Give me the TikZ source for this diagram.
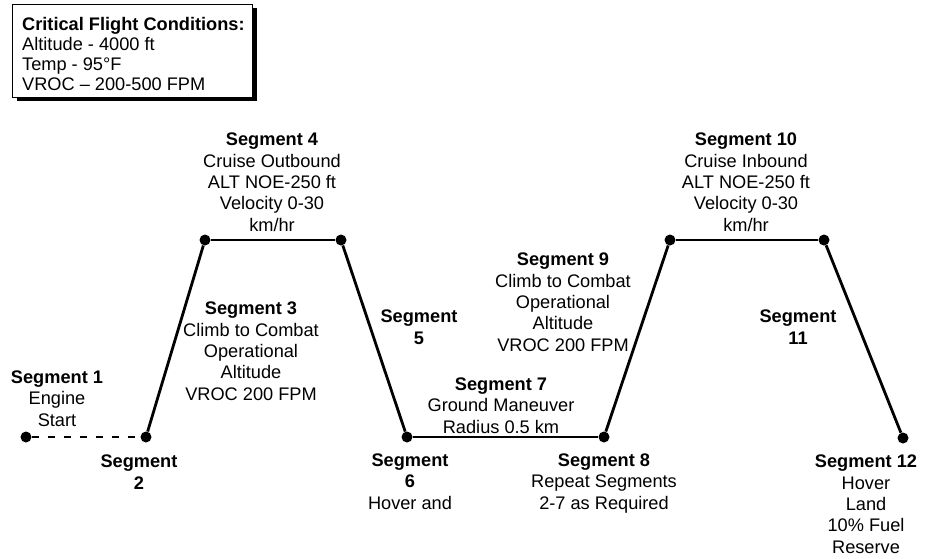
\documentclass[tikz,border=0pt]{standalone}
\usepackage{fontspec}
\setmainfont{Liberation Sans}
\usetikzlibrary{positioning,shadows}

\begin{document}
\begin{tikzpicture}[x=1pt, y=-1pt,
	pt/.style={circle, fill=black, inner sep=0pt, minimum size=11pt},
	seg/.style={align=center, anchor=base, inner sep=0pt, font=\fontsize{18.2}{21.3}\selectfont},
	leg/.style={line width=2.8pt}]
	\useasboundingbox (0,0) rectangle (927,558);

	% legend box
	\node[draw, line width=1.2pt, fill=white, anchor=north west, minimum width=240pt, minimum height=93pt,
	      drop shadow={shadow xshift=4pt, shadow yshift=-3.5pt, fill=black, opacity=1}] (cond) at (12,4) {};
	\node[anchor=north west, align=left, inner sep=0pt, font=\fontsize{18.2}{20}\selectfont] (condtext) at (22,17.5)
	      {\textbf{Critical Flight Conditions:}\\ Altitude - 4000 ft\\ Temp - 95°F\\ VROC -- 200-500 FPM};

	% profile points
	\node[pt] (p1) at (26,437) {};
	\node[pt] (p2) at (146,437) {};
	\node[pt] (p3) at (205,240) {};
	\node[pt] (p4) at (341,240) {};
	\node[pt] (p5) at (407,437) {};
	\node[pt] (p6) at (604,437) {};
	\node[pt] (p7) at (670,240) {};
	\node[pt] (p8) at (824,240) {};
	\node[pt] (p9) at (903,438) {};

	\draw[leg, dash pattern=on 7pt off 9pt] (p1) -- (p2);
	\draw[leg] (p2) -- (p3);
	\draw[leg] (p3) -- (p4);
	\draw[leg] (p4) -- (p5);
	\draw[leg] (p5) -- (p6);
	\draw[leg] (p6) -- (p7);
	\draw[leg] (p7) -- (p8);
	\draw[leg] (p8) -- (p9);

	% segment labels (placed at the baseline of their last line)
	\node[seg] (s1) at (57,426) {\textbf{Segment 1}\\ Engine\\ Start};
	\node[seg] (s2) at (139,489) {\textbf{Segment}\\ \textbf{2}};
	\node[seg] (s3) at (251,400) {\textbf{Segment 3}\\ Climb to Combat\\ Operational\\ Altitude\\ VROC 200 FPM};
	\node[seg] (s4) at (272,231) {\textbf{Segment 4}\\ Cruise Outbound\\ ALT NOE-250 ft\\ Velocity 0-30\\ km/hr};
	\node[seg] (s5) at (419,344) {\textbf{Segment}\\ \textbf{5}};
	\node[seg] (s6) at (410,509) {\textbf{Segment}\\ \textbf{6}\\ Hover and};
	\node[seg] (s7) at (501,433) {\textbf{Segment 7}\\ Ground Maneuver\\ Radius 0.5 km};
	\node[seg] (s8) at (604,509) {\textbf{Segment 8}\\ Repeat Segments\\ 2-7 as Required};
	\node[seg] (s9) at (563,351) {\textbf{Segment 9}\\ Climb to Combat\\ Operational\\ Altitude\\ VROC 200 FPM};
	\node[seg] (s10) at (746,231) {\textbf{Segment 10}\\ Cruise Inbound\\ ALT NOE-250 ft\\ Velocity 0-30\\ km/hr};
	\node[seg] (s11) at (798,344) {\textbf{Segment}\\ \textbf{11}};
	\node[seg] (s12) at (866,553) {\textbf{Segment 12}\\ Hover\\ Land\\ 10\% Fuel\\ Reserve};
\end{tikzpicture}
\end{document}
